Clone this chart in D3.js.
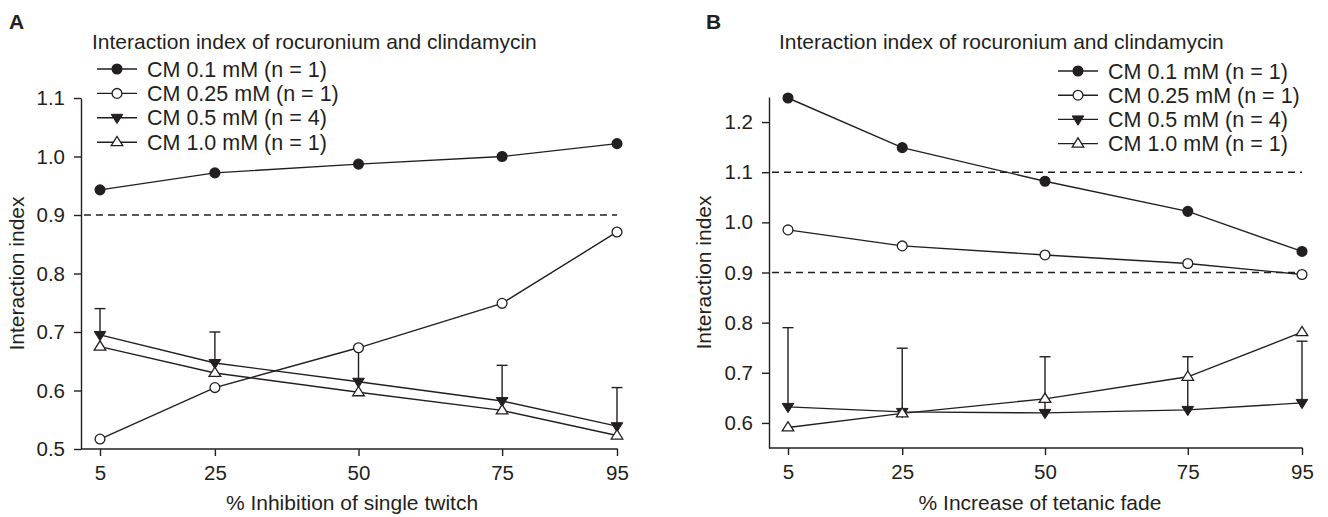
<!DOCTYPE html>
<html>
<head>
<meta charset="utf-8">
<script src="https://cdn.jsdelivr.net/npm/d3@7"></script>
<style>
  html, body { margin: 0; padding: 0; background: #fff; }
  svg { display: block; }
  text { font-family: "Liberation Sans", Arial, sans-serif; fill: #231f20; }
</style>
</head>
<body>
<svg id="chart" width="1328" height="517"></svg>
<script>
// ---------------- DATA ----------------
const xCategories = [5, 25, 50, 75, 95];
const seriesNames = ["CM 0.1 mM (n = 1)", "CM 0.25 mM (n = 1)", "CM 0.5 mM (n = 4)", "CM 1.0 mM (n = 1)"];
const panelTitle = "Interaction index of rocuronium and clindamycin";

// Panel A: % inhibition of single twitch
const aCM01 = [0.943, 0.972, 0.987, 1.000, 1.022];
const aCM025 = [0.517, 0.605, 0.673, 0.749, 0.871];
const aCM05 = [0.695, 0.647, 0.615, 0.582, 0.539];
const aCM05Upper = [0.740, 0.700, 0.673, 0.643, 0.605];
const aCM10 = [0.675, 0.630, 0.597, 0.566, 0.523];
const aYTicks = [0.5, 0.6, 0.7, 0.8, 0.9, 1.0, 1.1];
const aRefLines = [0.9];

// Panel B: % increase of tetanic fade
const bCM01 = [1.248, 1.149, 1.082, 1.022, 0.942];
const bCM025 = [0.985, 0.953, 0.935, 0.918, 0.896];
const bCM05 = [0.632, 0.622, 0.620, 0.626, 0.640];
const bCM05Upper = [0.790, 0.749, 0.732, 0.732, 0.763];
const bCM10 = [0.591, 0.619, 0.648, 0.692, 0.781];
const bYTicks = [0.6, 0.7, 0.8, 0.9, 1.0, 1.1, 1.2];
const bRefLines = [1.1, 0.9];

// ---------------- DRAWING ----------------
const svg = d3.select("#chart");
const ink = "#231f20";
const markerTypes = ["filledCircle", "openCircle", "filledTriDown", "openTriUp"];

function drawMarker(g, type, cx, cy) {
  if (type === "filledCircle" || type === "openCircle") {
    g.append("circle").attr("cx", cx).attr("cy", cy).attr("r", 4.9)
      .attr("fill", type === "filledCircle" ? ink : "#fff")
      .attr("stroke", ink).attr("stroke-width", 1.3);
  } else if (type === "filledTriDown") {
    const s = 5.8;
    g.append("path")
      .attr("d", `M${cx - s},${cy - s * 0.6}L${cx + s},${cy - s * 0.6}L${cx},${cy + s * 1.0}Z`)
      .attr("fill", ink).attr("stroke", ink).attr("stroke-width", 1);
  } else {
    const s = 5.8;
    g.append("path")
      .attr("d", `M${cx - s},${cy + s * 0.6}L${cx + s},${cy + s * 0.6}L${cx},${cy - s * 1.0}Z`)
      .attr("fill", "#fff").attr("stroke", ink).attr("stroke-width", 1.3);
  }
}

function drawPanel(cfg) {
  const g = svg.append("g");
  const x = d3.scaleLinear().domain([5, 95]).range(cfg.xRange);
  const y = d3.scaleLinear().domain(cfg.yDomain).range(cfg.yRange);

  // panel letter
  g.append("text").attr("x", cfg.letterX).attr("y", 29)
    .attr("font-size", 21).attr("font-weight", "bold").text(cfg.letter);
  // title
  g.append("text").attr("x", cfg.titleX).attr("y", 49)
    .attr("font-size", 21).text(panelTitle);

  // reference dashed lines
  cfg.refLines.forEach(v => {
    g.append("line").attr("x1", cfg.axisX + 3).attr("x2", x(95))
      .attr("y1", y(v)).attr("y2", y(v))
      .attr("stroke", ink).attr("stroke-width", 1.4).attr("stroke-dasharray", "7,5");
  });

  // y axis
  const yAxis = d3.axisLeft(y).tickValues(cfg.yTicks).tickFormat(d3.format(".1f"))
    .tickSize(7).tickSizeOuter(0).tickPadding(9);
  const ya = g.append("g").attr("transform", `translate(${cfg.axisX},0)`).call(yAxis);
  ya.selectAll("text").attr("font-size", 20.5).attr("font-family", "Liberation Sans, Arial, sans-serif").attr("fill", ink);
  ya.selectAll("line,path").attr("stroke", ink).attr("stroke-width", 1.4);

  // x axis
  const xAxis = d3.axisBottom(x).tickValues(xCategories).tickFormat(d3.format("d"))
    .tickSize(7).tickSizeOuter(0).tickPadding(9);
  const xa = g.append("g").attr("transform", `translate(0,${cfg.yRange[0]})`).call(xAxis);
  xa.select(".domain").remove();
  xa.selectAll("text").attr("font-size", 20.5).attr("font-family", "Liberation Sans, Arial, sans-serif").attr("fill", ink);
  xa.selectAll("line").attr("stroke", ink).attr("stroke-width", 1.4);
  g.append("line").attr("x1", cfg.axisX).attr("x2", x(95) + 0.7)
    .attr("y1", cfg.yRange[0]).attr("y2", cfg.yRange[0])
    .attr("stroke", ink).attr("stroke-width", 1.4);

  // axis titles
  g.append("text").attr("transform", `translate(${cfg.yTitleX},${(cfg.yRange[0] + cfg.yRange[1]) / 2}) rotate(-90)`)
    .attr("text-anchor", "middle").attr("font-size", 21).text("Interaction index");
  g.append("text").attr("x", cfg.xTitleX).attr("y", 510)
    .attr("text-anchor", "middle").attr("font-size", 21).text(cfg.xTitle);

  // error bars (upward only)
  const eg = g.append("g");
  cfg.upper.forEach((u, i) => {
    const cx = x(xCategories[i]);
    eg.append("line").attr("x1", cx).attr("x2", cx).attr("y1", y(cfg.series[2][i])).attr("y2", y(u))
      .attr("stroke", ink).attr("stroke-width", 1.4);
    eg.append("line").attr("x1", cx - 5.5).attr("x2", cx + 5.5).attr("y1", y(u)).attr("y2", y(u))
      .attr("stroke", ink).attr("stroke-width", 1.4);
  });

  // lines
  const line = d3.line().x((d, i) => x(xCategories[i])).y(d => y(d));
  cfg.series.forEach(s => {
    g.append("path").attr("d", line(s)).attr("fill", "none")
      .attr("stroke", ink).attr("stroke-width", 1.4);
  });
  // markers
  cfg.series.forEach((s, k) => {
    s.forEach((v, i) => drawMarker(g, markerTypes[k], x(xCategories[i]), y(v)));
  });

  // legend
  seriesNames.forEach((name, k) => {
    const ly = cfg.legendY + k * cfg.legendStep;
    g.append("line").attr("x1", cfg.legendX).attr("x2", cfg.legendX + 40)
      .attr("y1", ly).attr("y2", ly).attr("stroke", ink).attr("stroke-width", 1.4);
    drawMarker(g, markerTypes[k], cfg.legendX + 20, ly);
    g.append("text").attr("x", cfg.legendX + 50).attr("y", ly + 7.5)
      .attr("font-size", 21.5).text(name);
  });
}

drawPanel({
  letter: "A", letterX: 9, titleX: 92,
  xRange: [100, 617], axisX: 81,
  yDomain: [0.5, 1.1], yRange: [449, 98], yTicks: aYTicks,
  refLines: aRefLines, yTitleX: 24,
  xTitle: "% Inhibition of single twitch", xTitleX: 352,
  series: [aCM01, aCM025, aCM05, aCM10], upper: aCM05Upper,
  legendX: 97, legendY: 69, legendStep: 24.4
});

drawPanel({
  letter: "B", letterX: 706, titleX: 779,
  xRange: [788, 1302], axisX: 769,
  yDomain: [0.55, 1.25], yRange: [448, 97], yTicks: bYTicks,
  refLines: bRefLines, yTitleX: 711,
  xTitle: "% Increase of tetanic fade", xTitleX: 1040,
  series: [bCM01, bCM025, bCM05, bCM10], upper: bCM05Upper,
  legendX: 1058, legendY: 71, legendStep: 24.2
});
</script>
</body>
</html>
